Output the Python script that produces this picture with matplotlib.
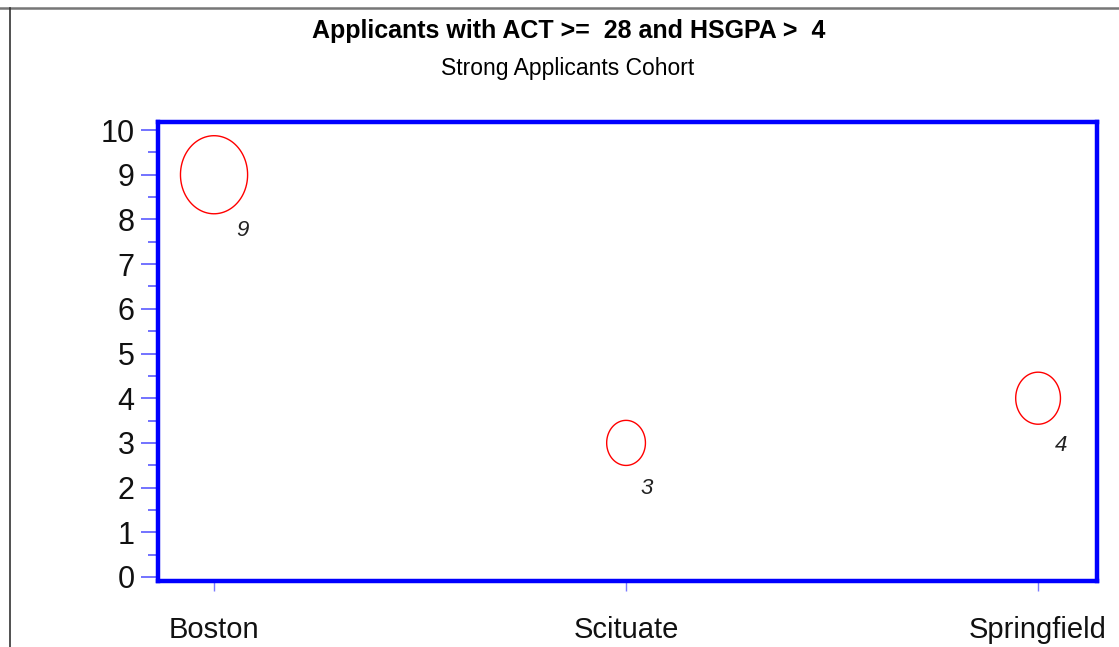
import matplotlib
matplotlib.use("Agg")
import matplotlib.pyplot as plt
from matplotlib.path import Path
from matplotlib.lines import Line2D
import numpy as np

# Datos
ciudades = ["Boston", "Scituate", "Springfield"]
conteos = [9, 3, 4]
yticks = list(range(0, 11))

plt.rcParams["font.family"] = ["Liberation Sans", "DejaVu Sans"]

fig = plt.figure(figsize=(11.19, 6.47), dpi=100)
ax = fig.add_axes([158 / 1119, 1 - 581 / 647, (1097 - 158) / 1119, (581 - 122) / 647])

# marcador elíptico (un poco más alto que ancho)
t = np.linspace(0, 2 * np.pi, 100)
elipse = Path(np.column_stack([0.86 * np.cos(t), np.sin(t)]))

x = np.arange(len(ciudades))
tam = [c * 351 for c in conteos]
ax.scatter(x, conteos, s=tam, marker=elipse, facecolors="none",
           edgecolors="red", linewidths=1.0, zorder=3)

# etiquetas de valor debajo a la derecha de cada burbuja
for xi, c, s in zip(x, conteos, tam):
    r = np.sqrt(s) / 2  # radio en puntos
    ax.annotate(str(c), (xi, c), xytext=(0.49 * r + 7, -(0.6 * r + 23)),
                textcoords="offset points", ha="center", va="center",
                fontsize=16, fontstyle="italic", color="#222222")

ax.set_xlim(-0.136, 2.143)
ax.set_ylim(-0.09, 10.18)
ax.set_xticks(x)
ax.set_xticklabels(ciudades)
ax.set_yticks(yticks)
ax.set_yticks(np.arange(0.5, 10, 1), minor=True)

for sp in ax.spines.values():
    sp.set_color("#0000ff")
    sp.set_linewidth(3.2)

ax.tick_params(axis="y", which="major", length=12, width=1.2, color="#5a5aff",
               labelsize=22, pad=5, labelcolor="#111111")
ax.tick_params(axis="y", which="minor", length=7, width=1.2, color="#5a5aff")
ax.tick_params(axis="x", which="major", length=7, width=1.0, color="#7a7aff",
               labelsize=21, pad=18, labelcolor="#111111")

# Títulos
fig.text(569 / 1119, 1 - 31 / 647, "Applicants with ACT >=  28 and HSGPA >  4",
         ha="center", va="center", fontsize=18, fontweight="bold")
fig.text(568 / 1119, 1 - 69 / 647, "Strong Applicants Cohort",
         ha="center", va="center", fontsize=16.5)

# borde gris superior e izquierdo
fig.add_artist(Line2D([0, 1], [1 - 7.5 / 647] * 2, color="#777777", lw=1.8,
                      transform=fig.transFigure))
fig.add_artist(Line2D([9.5 / 1119] * 2, [0, 1 - 7.5 / 647], color="#333333", lw=1.2,
                      transform=fig.transFigure))

fig.savefig("out.png", dpi=100)
